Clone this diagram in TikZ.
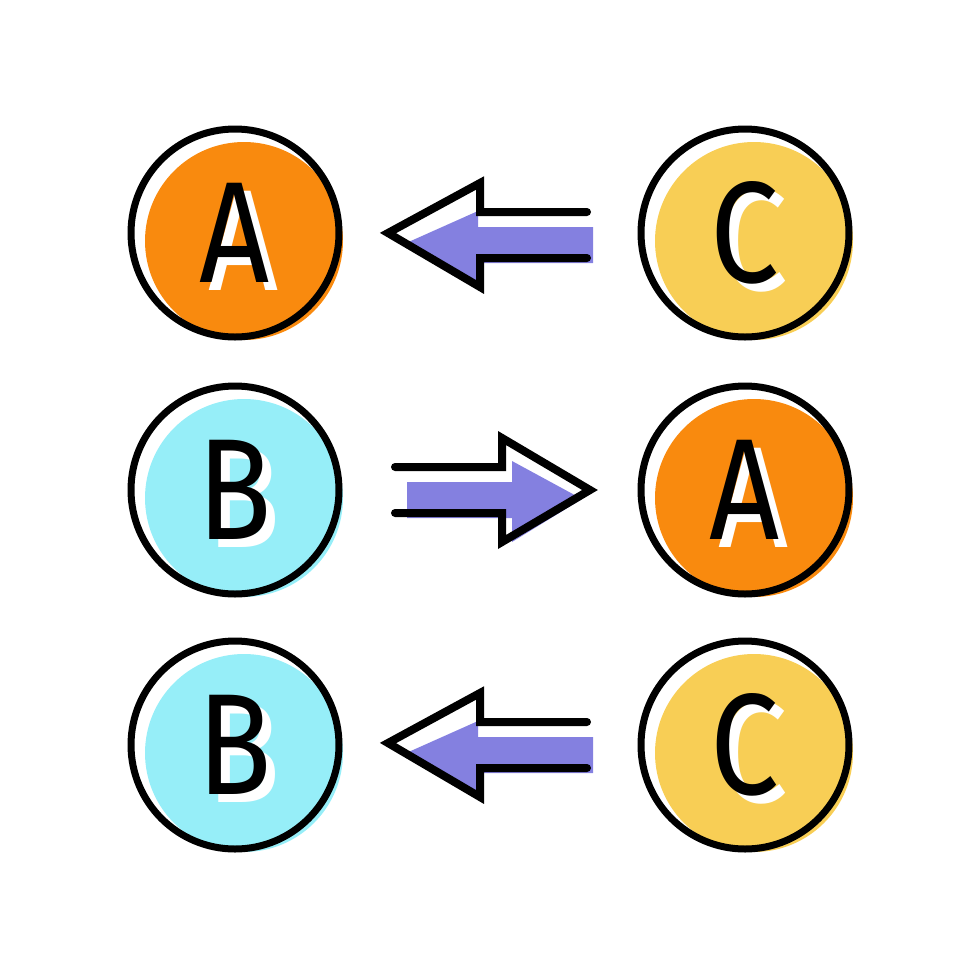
\documentclass[tikz,border=0pt]{standalone}
\usepackage{fontspec}
\setmainfont{Fira Sans}
\usepackage{graphicx}
\definecolor{orangeF}{HTML}{F98A0E}
\definecolor{yellowF}{HTML}{F8CE55}
\definecolor{blueF}{HTML}{96EEF8}
\definecolor{purpleF}{HTML}{8480E0}
\newcommand{\shl}[1]{\scalebox{0.85}[1]{\rlap{\smash{\hspace{1mm}\raisebox{-0.8mm}{\color{white}#1}}}#1}}
\tikzset{
  ring/.style={circle, draw=black, line width=0.7mm, minimum size=20.8mm, inner sep=0pt,
    font=\fontsize{41}{41}\selectfont, text=black},
  arrowline/.style={draw=black, line width=0.8mm, line cap=round, line join=miter},
  arrowfill/.style={fill=purpleF}
}
\begin{document}
\begin{tikzpicture}[x=0.1mm,y=-0.1mm]
\useasboundingbox (0,0) rectangle (980,980);
% coloured offset discs
\fill[orangeF] (244,241) circle[radius=9.9mm];
\fill[yellowF] (754,241) circle[radius=9.9mm];
\fill[blueF]   (244,498) circle[radius=9.9mm];
\fill[orangeF] (754,498) circle[radius=9.9mm];
\fill[blueF]   (244,753) circle[radius=9.9mm];
\fill[yellowF] (754,753) circle[radius=9.9mm];
% rings with letters
\node[ring] (a1) at (235,233) {\shl{A}};
\node[ring] (c1) at (745,233) {\shl{C}};
\node[ring] (b2) at (235,490) {\shl{B}};
\node[ring] (a2) at (745,490) {\shl{A}};
\node[ring] (b3) at (235,745) {\shl{B}};
\node[ring] (c3) at (745,745) {\shl{C}};
% row 1 arrow (right to left)
\fill[arrowfill] (404,244) -- (478,211) -- (478,227) -- (593,227) -- (593,263) -- (478,263) -- (478,286) -- cycle;
\draw[arrowline] (587,212) -- (480,212) -- (480,183) -- (388,233) -- (480,287) -- (480,258) -- (587,258);
% row 2 arrow (left to right)
\fill[arrowfill] (407,482) -- (512,482) -- (512,461) -- (582,499) -- (512,542) -- (512,518) -- (407,518) -- cycle;
\draw[arrowline] (395,467) -- (502,467) -- (502,438) -- (590,490) -- (502,542) -- (502,513) -- (395,513);
% row 3 arrow (right to left)
\begin{scope}[shift={(0,510)}]
\fill[arrowfill] (404,244) -- (478,211) -- (478,227) -- (593,227) -- (593,263) -- (478,263) -- (478,286) -- cycle;
\draw[arrowline] (587,212) -- (480,212) -- (480,183) -- (388,233) -- (480,287) -- (480,258) -- (587,258);
\end{scope}
\end{tikzpicture}
\end{document}
